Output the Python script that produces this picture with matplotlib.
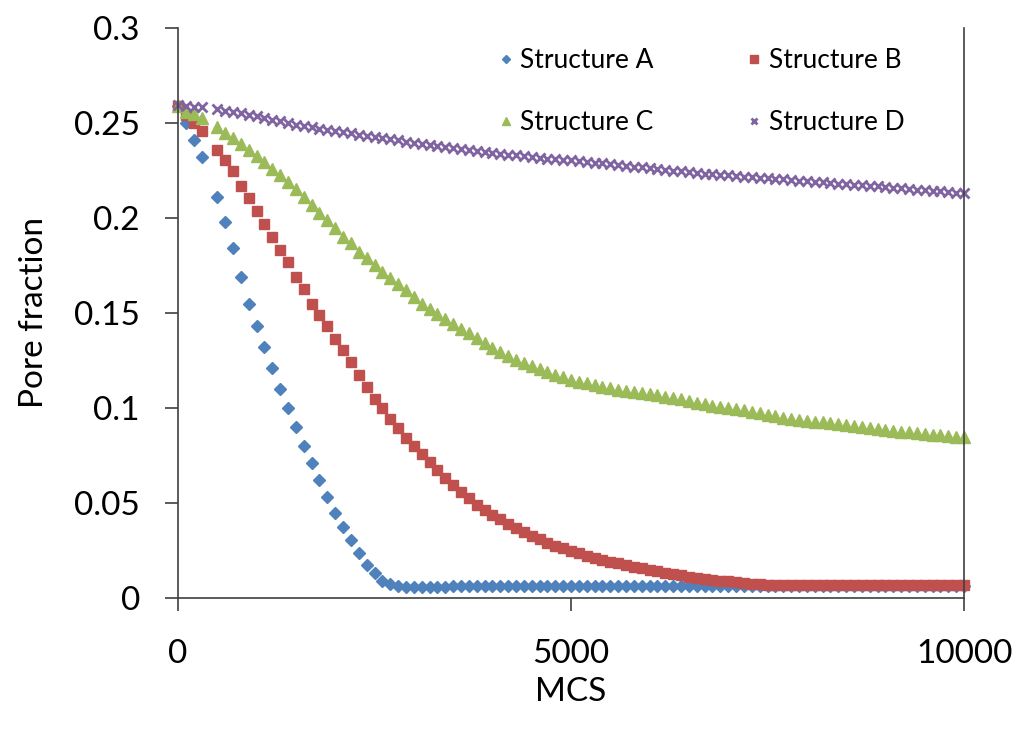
import matplotlib
matplotlib.use("Agg")
import matplotlib.pyplot as plt

# MCS steps (no sample at 400 in the source data)
mcs = [0, 100, 200, 300] + list(range(500, 10001, 100))

structure_a = [
    0.259, 0.250, 0.241, 0.232,
    0.211, 0.198, 0.184, 0.169, 0.155, 0.143, 0.132, 0.121, 0.110, 0.100,
    0.090, 0.080, 0.071, 0.062, 0.053, 0.045, 0.0375, 0.0305, 0.0235, 0.0175,
    0.013, 0.0088, 0.0072, 0.0063, 0.0060, 0.0058, 0.0056, 0.0056, 0.0058, 0.0060,
    0.0062, 0.0063, 0.0063, 0.0064, 0.0063, 0.0064, 0.0064, 0.0063, 0.0064, 0.0064,
    0.0063, 0.0064, 0.0064, 0.0064, 0.0063, 0.0064, 0.0064, 0.0064, 0.0063, 0.0064,
    0.0064, 0.0063, 0.0064, 0.0064, 0.0064, 0.0063, 0.0064, 0.0064, 0.0063, 0.0064,
    0.0064, 0.0064, 0.0063, 0.0064, 0.0064, 0.0063, 0.0064, 0.0064, 0.0064, 0.0063,
    0.0064, 0.0064, 0.0063, 0.0064, 0.0064, 0.0064, 0.0063, 0.0064, 0.0064, 0.0063,
    0.0064, 0.0064, 0.0064, 0.0063, 0.0064, 0.0064, 0.0063, 0.0064, 0.0064, 0.0064,
    0.0063, 0.0064, 0.0064, 0.0063, 0.0064, 0.0064,
]

structure_b = [
    0.259, 0.254, 0.250, 0.246,
    0.236, 0.2305, 0.2245, 0.217, 0.2105, 0.2035, 0.197, 0.190, 0.183, 0.177,
    0.169, 0.1625, 0.155, 0.149, 0.143, 0.1365, 0.1305, 0.124, 0.1175, 0.111,
    0.105, 0.0998, 0.094, 0.0895, 0.084, 0.080, 0.076, 0.0718, 0.0675, 0.0632,
    0.0595, 0.056, 0.0525, 0.049, 0.0462, 0.0437, 0.0415, 0.039, 0.0366, 0.0345,
    0.0328, 0.031, 0.0292, 0.0276, 0.0262, 0.0248, 0.0235, 0.0223, 0.0212, 0.0202,
    0.0192, 0.0183, 0.0174, 0.0165, 0.0157, 0.0149, 0.0141, 0.0133, 0.0126, 0.0119,
    0.0113, 0.0107, 0.0101, 0.0096, 0.0092, 0.0088, 0.0084, 0.0080, 0.0076, 0.0073,
    0.0071, 0.0070, 0.0070, 0.0069, 0.0070, 0.0070, 0.0070, 0.0069, 0.0070, 0.0070,
    0.0070, 0.0069, 0.0070, 0.0070, 0.0070, 0.0069, 0.0070, 0.0070, 0.0070, 0.0069,
    0.0070, 0.0070, 0.0070, 0.0069, 0.0070, 0.0070,
]

structure_c = [
    0.259, 0.256, 0.2545, 0.2525,
    0.248, 0.245, 0.242, 0.239, 0.236, 0.2325, 0.2295, 0.226, 0.2225, 0.219,
    0.2155, 0.211, 0.2068, 0.2025, 0.199, 0.1946, 0.1902, 0.1867, 0.1823, 0.1788,
    0.1753, 0.1717, 0.1683, 0.1653, 0.1622, 0.1585, 0.1548, 0.152, 0.1495, 0.147,
    0.1443, 0.1418, 0.1393, 0.1367, 0.134, 0.1315, 0.1295, 0.1274, 0.1255, 0.1237,
    0.122, 0.1204, 0.1188, 0.1174, 0.1162, 0.115, 0.1139, 0.113, 0.112, 0.1112,
    0.1104, 0.1096, 0.109, 0.1085, 0.1078, 0.1072, 0.1066, 0.106, 0.1052, 0.1045,
    0.1038, 0.1028, 0.102, 0.1013, 0.1006, 0.1000, 0.0994, 0.0987, 0.098, 0.0972,
    0.0964, 0.0957, 0.095, 0.0944, 0.0938, 0.0933, 0.0928, 0.0924, 0.092, 0.0915,
    0.0911, 0.0906, 0.0899, 0.0893, 0.0889, 0.0884, 0.088, 0.0876, 0.0872, 0.0868,
    0.0864, 0.0859, 0.0856, 0.0853, 0.085, 0.0847,
]

structure_d = [
    0.2595, 0.259, 0.2586, 0.2582,
    0.2572, 0.2565, 0.2557, 0.2551, 0.2543, 0.2535, 0.2527, 0.2518, 0.2509, 0.250,
    0.2491, 0.2484, 0.2477, 0.247, 0.2463, 0.2457, 0.2451, 0.2445, 0.2439, 0.2433,
    0.2427, 0.2421, 0.2415, 0.2408, 0.2402, 0.2396, 0.239, 0.2384, 0.2377, 0.2372,
    0.2367, 0.2362, 0.2357, 0.2352, 0.2347, 0.2342, 0.2337, 0.2333, 0.2329, 0.2325,
    0.2321, 0.2317, 0.2313, 0.231, 0.2306, 0.2303, 0.2299, 0.2295, 0.2291, 0.2287,
    0.2283, 0.2279, 0.2275, 0.227, 0.2266, 0.2262, 0.2258, 0.2254, 0.225, 0.2246,
    0.2242, 0.2237, 0.2234, 0.223, 0.2227, 0.2224, 0.2221, 0.2218, 0.2215, 0.2212,
    0.2209, 0.2206, 0.2203, 0.220, 0.2197, 0.2194, 0.2191, 0.2188, 0.2184, 0.2181,
    0.2178, 0.2175, 0.2172, 0.2169, 0.2166, 0.2163, 0.216, 0.2156, 0.2153, 0.215,
    0.2147, 0.2143, 0.214, 0.2137, 0.2134, 0.213,
]

x_ticks = [0, 5000, 10000]
y_ticks = [0, 0.05, 0.1, 0.15, 0.2, 0.25, 0.3]
y_tick_labels = ["0", "0.05", "0.1", "0.15", "0.2", "0.25", "0.3"]

plt.rcParams["font.family"] = ["Lato", "DejaVu Sans"]

fig = plt.figure(figsize=(10.21, 7.32), dpi=100)
ax = fig.add_axes([178 / 1021, 1 - 598 / 732, 786 / 1021, 570 / 732])

series = [
    ("Structure A", structure_a, dict(marker="D", ms=6.5, color="#4F81BD")),
    ("Structure B", structure_b, dict(marker="s", ms=7.5, color="#C0504D")),
    ("Structure C", structure_c, dict(marker="^", ms=8.5, color="#9BBB59")),
    ("Structure D", structure_d, dict(marker="x", ms=6.5, mew=2.0, color="#8064A2")),
]
handles = []
for label, vals, style in series:
    h, = ax.plot(mcs, vals, linestyle="none", label=label, clip_on=False, **style)
    handles.append(h)

ax.set_xlim(0, 10000)
ax.set_ylim(0, 0.3)
ax.set_xticks(x_ticks)
ax.set_yticks(y_ticks)
ax.set_yticklabels(y_tick_labels)

ax.spines["top"].set_visible(False)
for side in ["left", "bottom", "right"]:
    ax.spines[side].set_color("#404040")
    ax.spines[side].set_linewidth(1.2)
ax.tick_params(axis="both", direction="out", length=9.5, width=1.2,
               color="#404040", labelsize=24)
ax.tick_params(axis="y", pad=18)
ax.tick_params(axis="x", pad=20)

ax.set_xlabel("MCS", fontsize=24, labelpad=6)
ax.set_ylabel("Pore fraction", fontsize=24, labelpad=18)

# legend fills column-wise, so order A, C, B, D gives rows A|B and C|D
order = [0, 2, 1, 3]
ax.legend([handles[i] for i in order], [series[i][0] for i in order],
          loc="upper left", bbox_to_anchor=(498 / 1021, 1 - 48 / 732),
          bbox_transform=fig.transFigure, ncol=2, frameon=False,
          fontsize=19, handlelength=0.6, handletextpad=0.25, columnspacing=3.5,
          labelspacing=1.4, markerscale=0.7, borderpad=0, borderaxespad=0)

fig.savefig("out.png", dpi=100)
